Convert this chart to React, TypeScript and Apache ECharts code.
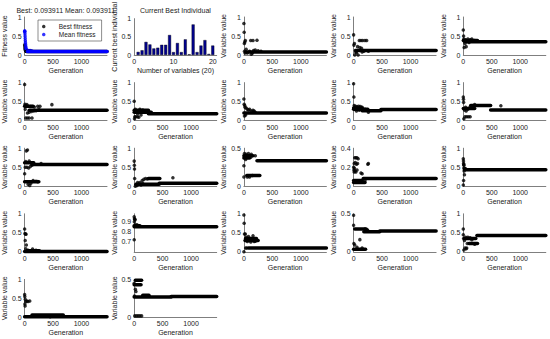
import React, { useEffect, useRef } from "react";
import * as echarts from "echarts";

const FONT = '"Liberation Sans", Arial, Helvetica, sans-serif';
const TXT = "#222222";
const AX = "#7f7f7f";

// ---- Panel 1: fitness ----
const GEN_MAX = 1450;
const genTicks = [0, 500, 1000];
const fitTicks = [0, 0.5, 1];
const bestFitnessPts = [[0, 0.27], [3, 0.23], [6, 0.19], [9, 0.16], [12, 0.14], [16, 0.12], [20, 0.11], [25, 0.1], [30, 0.097]];
const bestFitnessLine = [30, 1450, 0.094];
const meanFitnessPts = [[0, 0.62], [2, 0.64], [4, 0.61], [6, 0.56], [8, 0.5], [10, 0.44], [12, 0.38], [14, 0.33], [17, 0.28], [20, 0.23], [23, 0.19], [27, 0.16], [31, 0.14], [36, 0.12], [42, 0.11], [50, 0.1], [65, 0.12], [80, 0.11], [95, 0.12], [115, 0.11], [135, 0.1]];
const meanFitnessLine = [50, 1450, 0.095];

// ---- Panel 2: current best individual ----
const varIndex = [1, 2, 3, 4, 5, 6, 7, 8, 9, 10, 11, 12, 13, 14, 15, 16, 17, 18, 19, 20];
const bestIndividual = [0.085, 0.13, 0.36, 0.29, 0.18, 0.2, 0.28, 0.28, 0.55, 0.08, 0.33, 0.08, 0.43, 0.02, 0.84, 0.08, 0.26, 0.41, 0.03, 0.26];
const barXTicks = [0, 10, 20];

// ---- Variable panels: scattered generations [gen, value] and dense runs [genStart, genEnd, value] ----
const var1Pts = [[0, 0.83], [5, 0.6], [8, 0.3], [15, 0.34], [25, 0.38], [40, 0.15], [60, 0.05], [120, 0.38], [160, 0.38], [230, 0.39], [170, 0.12], [200, 0.13], [250, 0.11], [130, 0.02], [150, 0.05], [100, 0.1], [300, 0.1], [10, 0.1], [20, 0.05]];
const var1Segs = [[30, 1450, 0.08]];
const var2Pts = [[0, 0.53], [5, 0.26], [15, 0.3], [20, 0.0], [30, 0.12], [50, 0.05], [80, 0.0], [100, 0.38], [130, 0.38], [160, 0.38], [200, 0.38], [230, 0.38], [110, 0.2], [140, 0.18], [70, 0.22], [150, 0.08], [180, 0.1], [260, 0.1], [40, 0.08]];
const var2Segs = [[40, 1450, 0.12]];
const var3Pts = [[0, 0.66], [5, 0.5], [10, 0.42], [15, 0.2], [50, 0.22], [20, 0.35], [40, 0.4], [80, 0.42], [120, 0.4], [150, 0.42], [200, 0.38], [100, 0.33], [30, 0.3]];
const var3Segs = [[0, 250, 0.38], [50, 1450, 0.35]];
const var4Pts = [[0, 0.95], [5, 0.43], [20, 0.4], [40, 0.42], [60, 0.38], [100, 0.37], [130, 0.37], [170, 0.36], [230, 0.38], [270, 0.38], [20, 0.07], [50, 0.07], [80, 0.07], [130, 0.07], [50, 0.2], [80, 0.22], [120, 0.24], [160, 0.25], [200, 0.26], [250, 0.3], [480, 0.42], [10, 0.3]];
const var4Segs = [[80, 1450, 0.27], [0, 150, 0.38]];
const var5Pts = [[0, 0.51], [5, 0.05], [10, 0.1], [30, 0.1], [60, 0.1], [80, 0.09], [100, 0.3], [150, 0.28], [200, 0.26], [120, 0.15], [20, 0.3], [60, 0.18]];
const var5Segs = [[0, 300, 0.22], [0, 250, 0.27], [250, 1450, 0.18]];
const var6Pts = [[0, 0.57], [5, 0.43], [15, 0.4], [20, 0.35], [40, 0.33], [60, 0.3], [80, 0.28], [100, 0.3], [130, 0.25], [160, 0.27], [180, 0.25], [200, 0.22], [30, 0.15], [10, 0.12]];
const var6Segs = [[0, 1450, 0.2]];
const var7Pts = [[0, 0.97], [5, 0.62], [10, 0.4], [30, 0.38], [60, 0.37], [90, 0.38], [120, 0.37], [150, 0.35], [200, 0.3], [260, 0.22], [50, 0.25], [100, 0.27]];
const var7Segs = [[0, 150, 0.33], [0, 250, 0.3], [150, 480, 0.26], [480, 1450, 0.29]];
const var8Pts = [[0, 0.62], [3, 0.56], [5, 0.48], [10, 0.05], [30, 0.1], [60, 0.1], [90, 0.1], [120, 0.1], [20, 0.28], [50, 0.25], [80, 0.3], [110, 0.34], [150, 0.38], [200, 0.42], [660, 0.39], [40, 0.35]];
const var8Segs = [[130, 480, 0.4], [480, 1450, 0.28], [0, 200, 0.32]];
const var9Pts = [[30, 0.93], [50, 0.95], [0, 0.33], [10, 0.5], [40, 0.5], [70, 0.48], [100, 0.52], [130, 0.55], [60, 0.05], [90, 0.02], [110, 0.08], [290, 0.6], [150, 0.15], [200, 0.13], [230, 0.12], [20, 0.65], [80, 0.66]];
const var9Segs = [[130, 1450, 0.57], [0, 160, 0.62], [0, 250, 0.12]];
const var10Pts = [[0, 0.66], [3, 0.55], [5, 0.45], [8, 0.2], [20, 0.0], [50, 0.02], [80, 0.05], [100, 0.1], [140, 0.15], [170, 0.18], [200, 0.2], [230, 0.19], [680, 0.22], [150, 0.07], [120, 0.03], [60, 0.1]];
const var10Segs = [[30, 440, 0.05], [250, 450, 0.2], [440, 1450, 0.08]];
const var11Pts = [[0, 0.27], [0, 0.12], [10, 0.43], [40, 0.42], [80, 0.43], [130, 0.42], [200, 0.4], [60, 0.12], [100, 0.12], [150, 0.14], [30, 0.35], [120, 0.38]];
const var11Segs = [[0, 160, 0.4], [0, 100, 0.37], [230, 1450, 0.335], [50, 280, 0.14]];
const var12Pts = [[20, 0.3], [40, 0.3], [60, 0.3], [80, 0.29], [10, 0.24], [30, 0.25], [50, 0.23], [70, 0.24], [0, 0.2], [15, 0.19], [5, 0.17], [25, 0.16], [10, 0.15], [40, 0.15], [60, 0.17], [250, 0.23], [260, 0.24], [130, 0.14], [150, 0.13], [200, 0.06]];
const var12Segs = [[0, 200, 0.04], [170, 1450, 0.08], [0, 150, 0.06]];
const var13Pts = [[0, 0.72], [3, 0.66], [5, 0.6], [8, 0.57], [10, 0.55], [15, 0.4], [20, 0.3], [5, 0.15], [0, 0.03], [25, 0.47], [40, 0.46], [10, 0.48]];
const var13Segs = [[20, 1450, 0.43]];
const var14Pts = [[0, 0.6], [5, 0.48], [15, 0.47], [25, 0.46], [10, 0.3], [30, 0.18], [20, 0.08], [60, 0.04], [140, 0.07], [200, 0.04]];
const var14Segs = [[0, 1450, 0.01], [40, 260, 0.03]];
const var15Pts = [[0, 0.95], [5, 0.93], [10, 0.925], [15, 0.92], [3, 0.9], [0, 0.72], [20, 0.87], [50, 0.87]];
const var15Segs = [[0, 1450, 0.85], [0, 100, 0.86]];
const var16Pts = [[0, 0.97], [5, 0.75], [10, 0.47], [25, 0.47], [0, 0.0], [40, 0.38], [80, 0.4], [160, 0.42], [120, 0.26], [180, 0.27], [200, 0.28], [60, 0.27], [30, 0.1], [50, 0.1]];
const var16Segs = [[80, 1450, 0.1], [20, 250, 0.3], [30, 220, 0.35]];
const var17Pts = [[0, 0.48], [0, 0.35], [5, 0.11], [20, 0.09], [110, 0.16], [60, 0.06], [150, 0.05], [200, 0.3], [240, 0.29], [250, 0.28]];
const var17Segs = [[20, 220, 0.3], [180, 460, 0.265], [460, 1450, 0.275], [0, 210, 0.035]];
const var18Pts = [[0, 0.6], [0, 0.45], [5, 0.35], [10, 0.05], [30, 0.1], [60, 0.1], [50, 0.08], [40, 0.38], [80, 0.38], [120, 0.37], [150, 0.32], [70, 0.22], [200, 0.2], [20, 0.3]];
const var18Segs = [[240, 1450, 0.43], [20, 220, 0.35], [100, 250, 0.22]];
const var19Pts = [[0, 0.6], [3, 0.55], [10, 0.48], [20, 0.42], [40, 0.43], [60, 0.42], [90, 0.43], [5, 0.35], [8, 0.3], [450, 0.02]];
const var19Segs = [[0, 1450, 0.02], [130, 680, 0.06]];
const var20Pts = [[0, 0.45], [20, 0.37], [30, 0.34], [10, 0.02], [40, 0.02], [70, 0.02], [100, 0.02], [130, 0.02], [5, 0.28]];
const var20Segs = [[0, 650, 0.27], [650, 1450, 0.275], [20, 130, 0.49], [0, 120, 0.43], [150, 260, 0.29]];

const varPts = [var1Pts, var2Pts, var3Pts, var4Pts, var5Pts, var6Pts, var7Pts, var8Pts, var9Pts, var10Pts, var11Pts, var12Pts, var13Pts, var14Pts, var15Pts, var16Pts, var17Pts, var18Pts, var19Pts, var20Pts];
const varSegs = [var1Segs, var2Segs, var3Segs, var4Segs, var5Segs, var6Segs, var7Segs, var8Segs, var9Segs, var10Segs, var11Segs, var12Segs, var13Segs, var14Segs, var15Segs, var16Segs, var17Segs, var18Segs, var19Segs, var20Segs];
const varYMin = [0, 0, 0, 0, 0, 0, 0, 0, 0, 0, 0, 0, 0, 0, 0.6, 0, 0, 0, 0, 0];
const varYMax = [1, 1, 1, 1, 1, 1, 1, 1, 1, 1, 0.5, 0.4, 1, 1, 0.98, 1, 0.5, 1, 1, 0.5];
const yTicksUnit = [0, 0.5, 1];
const yTicksHalf = [0, 0.5];
const yTicksPoint4 = [0, 0.2, 0.4];
const yTicksHigh = [0.7, 0.8, 0.9];
const varYTicks = [yTicksUnit, yTicksUnit, yTicksUnit, yTicksUnit, yTicksUnit, yTicksUnit, yTicksUnit, yTicksUnit, yTicksUnit, yTicksUnit, yTicksHalf, yTicksPoint4, yTicksUnit, yTicksUnit, yTicksHigh, yTicksUnit, yTicksHalf, yTicksUnit, yTicksUnit, yTicksHalf];

// ---- layout ----
const COLS = 5;
const LEFT0 = 24.5;
const COLW = 109.7;
const TOP0 = 17;
const ROWH = 65.6;
const PW = 82.5;
const PH = 38;

function gridFor(i: number) {
  const r = Math.floor(i / COLS);
  const c = i % COLS;
  return { left: LEFT0 + c * COLW, top: TOP0 + r * ROWH, width: PW, height: PH, containLabel: false };
}

function tickFormatter(ticks: number[]) {
  return (v: number) => {
    const t = ticks.find((x) => Math.abs(x - v) < 1e-6);
    return t === undefined ? "" : String(t);
  };
}

function makeX(i: number, max: number, ticks: number[], name: string) {
  return {
    type: "value",
    gridIndex: i,
    min: 0,
    max,
    interval: ticks[1] - ticks[0],
    axisLine: { show: true, onZero: false, lineStyle: { color: AX, width: 1 } },
    axisTick: { show: false },
    splitLine: { show: false },
    axisLabel: { fontFamily: FONT, fontSize: 7, color: TXT, margin: 3, formatter: tickFormatter(ticks) },
    name,
    nameLocation: "middle",
    nameGap: 12,
    nameTextStyle: { fontFamily: FONT, fontSize: 7, color: TXT },
  };
}

function makeY(i: number, min: number, max: number, ticks: number[], name: string) {
  return {
    type: "value",
    gridIndex: i,
    min,
    max,
    interval: ticks[1] - ticks[0],
    axisLine: { show: true, onZero: false, lineStyle: { color: AX, width: 1 } },
    axisTick: { show: false },
    splitLine: { show: false },
    axisLabel: { fontFamily: FONT, fontSize: 7, color: TXT, margin: 3, formatter: tickFormatter(ticks) },
    name,
    nameLocation: "middle",
    nameGap: 13,
    nameTextStyle: { fontFamily: FONT, fontSize: 7, color: TXT },
  };
}

function segSeries(g: number, seg: number[], color: string, name: string) {
  return {
    type: "line",
    name,
    xAxisIndex: g,
    yAxisIndex: g,
    data: [[seg[0], seg[2]], [seg[1], seg[2]]],
    symbol: "none",
    lineStyle: { color, width: 3.5, cap: "round" },
    clip: false,
    silent: true,
  };
}

function buildOption() {
  const grid: any[] = [];
  const xAxis: any[] = [];
  const yAxis: any[] = [];
  const series: any[] = [];

  // panel 0
  grid.push(gridFor(0));
  xAxis.push(makeX(0, GEN_MAX, genTicks, "Generation"));
  yAxis.push(makeY(0, 0, 1, fitTicks, "Fitness value"));
  series.push({ type: "scatter", name: "Best fitness", xAxisIndex: 0, yAxisIndex: 0, data: bestFitnessPts, symbolSize: 3.5, itemStyle: { color: "#000000" }, clip: false });
  series.push(segSeries(0, bestFitnessLine, "#000000", "best-run"));
  series.push({ type: "scatter", name: "Mean fitness", xAxisIndex: 0, yAxisIndex: 0, data: meanFitnessPts, symbolSize: 3.5, itemStyle: { color: "#0000ff" }, clip: false });
  series.push(segSeries(0, meanFitnessLine, "#0000ff", "mean-run"));

  // panel 1
  grid.push(gridFor(1));
  xAxis.push(makeX(1, 21, barXTicks, "Number of variables (20)"));
  yAxis.push(makeY(1, 0, 1, fitTicks, "Current best individual"));
  series.push({
    type: "bar",
    name: "best-individual",
    xAxisIndex: 1,
    yAxisIndex: 1,
    data: varIndex.map((v, k) => [v, bestIndividual[k]]),
    barWidth: 3,
    itemStyle: { color: "#00008f", borderColor: "#000000", borderWidth: 0.4 },
  });

  // variable panels
  for (let k = 0; k < 20; k++) {
    const g = k + 2;
    grid.push(gridFor(g));
    xAxis.push(makeX(g, GEN_MAX, genTicks, "Generation"));
    yAxis.push(makeY(g, varYMin[k], varYMax[k], varYTicks[k], "Variable value"));
    varSegs[k].forEach((s, j) => series.push(segSeries(g, s, "#000000", `v${k + 1}-run${j}`)));
    series.push({ type: "scatter", name: `v${k + 1}`, xAxisIndex: g, yAxisIndex: g, data: varPts[k], symbolSize: 3.5, itemStyle: { color: "#000000" }, clip: false });
  }

  return {
    animation: false,
    backgroundColor: "#ffffff",
    grid,
    xAxis,
    yAxis,
    series,
    legend: {
      data: ["Best fitness", "Mean fitness"],
      orient: "vertical",
      left: 38,
      top: 20,
      padding: [3, 6, 3, 4],
      itemGap: 1,
      itemWidth: 20,
      itemHeight: 3.5,
      borderColor: "#404040",
      borderWidth: 0.6,
      backgroundColor: "#ffffff",
      textStyle: { fontFamily: FONT, fontSize: 6.5, color: TXT, padding: [0, 0, 0, 0] },
      selectedMode: false,
    },
    graphic: [
      { type: "text", x: LEFT0 + PW / 2, y: 10, style: { text: "Best: 0.093911 Mean: 0.093911", font: `7px ${FONT}`, fill: TXT, align: "center", verticalAlign: "middle" } },
      { type: "text", x: LEFT0 + COLW + PW / 2, y: 10, style: { text: "Current Best Individual", font: `7px ${FONT}`, fill: TXT, align: "center", verticalAlign: "middle" } },
    ],
  };
}

export default function App() {
  const ref = useRef<HTMLDivElement>(null);
  useEffect(() => {
    if (!ref.current) return;
    const chart = echarts.init(ref.current, null, { renderer: "svg" });
    chart.setOption(buildOption() as any);
    return () => chart.dispose();
  }, []);
  return <div ref={ref} style={{ position: "fixed", left: 0, top: 0, width: 550, height: 339, background: "#fff" }} />;
}
